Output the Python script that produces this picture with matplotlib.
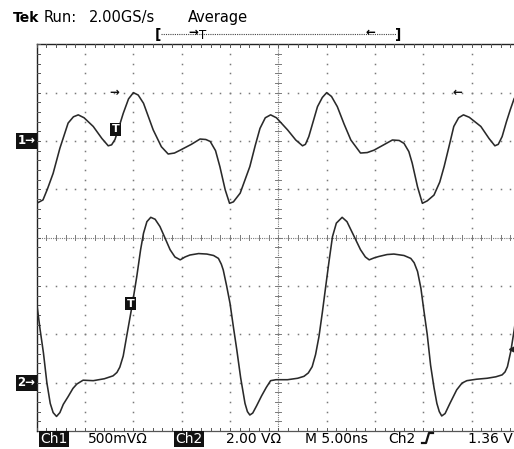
import numpy as np
import matplotlib
matplotlib.use("Agg")
import matplotlib.pyplot as plt
from matplotlib.lines import Line2D

plt.rcParams['font.family'] = ['DejaVu Sans']

# ---- data (divisions: x 0..10 time, y 0..8 from bottom) ----
ch1_t = [0.00, 0.13, 0.22, 0.34, 0.48, 0.65, 0.76, 0.86, 0.98, 1.17, 1.35, 1.48, 1.55, 1.62,
         1.70, 1.79, 1.90, 2.00, 2.10, 2.21, 2.41, 2.58, 2.72, 2.85, 2.97, 3.20, 3.38, 3.50,
         3.59, 3.70, 3.79, 3.90, 3.99, 4.07, 4.21, 4.33, 4.41, 4.52, 4.62, 4.73, 4.84, 4.96,
         5.19, 5.36, 5.50, 5.56, 5.63, 5.72, 5.81, 5.91, 6.00, 6.10, 6.22, 6.36, 6.50, 6.70,
         6.84, 6.98, 7.18, 7.36, 7.50, 7.60, 7.70, 7.77, 7.88, 7.98, 8.08, 8.22, 8.34, 8.43,
         8.53, 8.63, 8.73, 8.83, 8.95, 9.19, 9.36, 9.48, 9.55, 9.63, 9.72, 9.80, 9.88, 10.0]
ch1_v = [4.71, 4.78, 5.00, 5.33, 5.85, 6.37, 6.50, 6.54, 6.48, 6.30, 6.05, 5.90, 5.92, 6.03,
         6.28, 6.57, 6.87, 7.00, 6.95, 6.78, 6.23, 5.88, 5.73, 5.75, 5.81, 5.93, 6.04, 6.03,
         5.99, 5.80, 5.47, 4.99, 4.71, 4.74, 4.92, 5.25, 5.47, 5.90, 6.26, 6.48, 6.54, 6.48,
         6.23, 6.02, 5.90, 5.93, 6.09, 6.40, 6.71, 6.90, 7.00, 6.92, 6.71, 6.35, 6.02, 5.75,
         5.76, 5.81, 5.92, 6.02, 6.01, 5.95, 5.78, 5.54, 5.05, 4.71, 4.76, 4.88, 5.15, 5.47,
         5.88, 6.30, 6.48, 6.54, 6.49, 6.30, 6.05, 5.90, 5.93, 6.09, 6.40, 6.65, 6.88, 7.00]

ch2_t = [0.00, 0.07, 0.14, 0.21, 0.28, 0.34, 0.41, 0.48, 0.55, 0.65, 0.75, 0.83, 0.96, 1.17,
         1.40, 1.58, 1.66, 1.72, 1.79, 1.86, 1.97, 2.07, 2.15, 2.21, 2.28, 2.36, 2.45, 2.55,
         2.66, 2.76, 2.86, 2.97, 3.07, 3.17, 3.35, 3.52, 3.66, 3.76, 3.82, 3.86, 3.93, 4.00,
         4.07, 4.14, 4.22, 4.31, 4.36, 4.41, 4.47, 4.55, 4.65, 4.75, 4.84, 4.95, 5.19, 5.40,
         5.53, 5.62, 5.70, 5.77, 5.84, 5.91, 5.98, 6.05, 6.12, 6.20, 6.32, 6.42, 6.57, 6.70,
         6.80, 6.88, 6.98, 7.08, 7.25, 7.39, 7.60, 7.74, 7.81, 7.88, 7.95, 8.01, 8.08, 8.15,
         8.22, 8.28, 8.33, 8.38, 8.45, 8.55, 8.69, 8.80, 8.90, 9.10, 9.32, 9.50, 9.63, 9.69,
         9.74, 9.81, 9.88, 9.95]
ch2_v = [2.65, 2.10, 1.61, 1.00, 0.57, 0.38, 0.30, 0.38, 0.55, 0.71, 0.88, 0.97, 1.05, 1.04,
         1.08, 1.14, 1.21, 1.32, 1.55, 1.95, 2.57, 3.19, 3.75, 4.09, 4.33, 4.42, 4.38, 4.23,
         3.98, 3.75, 3.60, 3.54, 3.60, 3.64, 3.67, 3.66, 3.63, 3.57, 3.45, 3.33, 3.00, 2.64,
         2.15, 1.68, 1.10, 0.57, 0.40, 0.33, 0.37, 0.52, 0.72, 0.90, 1.04, 1.06, 1.06, 1.09,
         1.13, 1.20, 1.33, 1.58, 1.95, 2.45, 2.99, 3.52, 4.02, 4.30, 4.42, 4.33, 4.02, 3.75,
         3.60, 3.54, 3.58, 3.61, 3.65, 3.66, 3.63, 3.57, 3.48, 3.30, 2.95, 2.50, 2.00, 1.36,
         0.90, 0.57, 0.40, 0.31, 0.36, 0.57, 0.85, 0.99, 1.04, 1.07, 1.09, 1.12, 1.16, 1.22,
         1.33, 1.65, 2.09, 2.60]

ch1_ref = 6.0
ch2_ref = 1.0
trig_level = 1.70
t_marks = [(1.63, 6.24), (1.95, 2.63)]

W, H = 514, 449
fig = plt.figure(figsize=(W / 100, H / 100), dpi=100)
fig.patch.set_facecolor('white')
left_px, top_px, div_px = 36.7, 44.3, 48.33
ax = fig.add_axes([left_px / W, (H - (top_px + 8 * div_px)) / H, 10 * div_px / W, 8 * div_px / H])
ax.set_xlim(0, 10)
ax.set_ylim(0, 8)
ax.axis('off')

grid_c = '#7a7a7a'
minor = np.arange(0, 10.001, 0.2)
minor_y = np.arange(0, 8.001, 0.2)

# dotted division lines
for gy in [1, 2, 3, 5, 6, 7]:
    ax.plot(minor[1:-1], np.full(len(minor) - 2, gy), ls='none', marker='s', ms=1.1,
            mec='none', mfc=grid_c)
for gx in [1, 2, 3, 4, 6, 7, 8, 9]:
    ax.plot(np.full(len(minor_y) - 2, gx), minor_y[1:-1], ls='none', marker='s', ms=1.1,
            mec='none', mfc=grid_c)

# centre lines with ticks
ax.plot([0, 10], [4, 4], ls=(0, (1, 1)), lw=0.8, color=grid_c)
ax.plot([5, 5], [0, 8], ls=(0, (1, 1)), lw=0.8, color=grid_c)
for x in minor:
    ax.plot([x, x], [4 - 0.05, 4 + 0.05], lw=0.7, color=grid_c)
for y in minor_y:
    ax.plot([5 - 0.06, 5 + 0.06], [y, y], lw=0.7, color=grid_c)

# border
ax.plot([0, 10], [8, 8], lw=1.0, color='#222222', clip_on=False)
ax.plot([0, 10], [0, 0], lw=0.9, color='#555555', clip_on=False)
ax.plot([0, 0], [0, 8], lw=1.0, color='#222222', clip_on=False)
for x in minor:
    ax.plot([x, x], [8, 8 - 0.06], lw=0.7, color='#555555')
    ax.plot([x, x], [0, 0.06], lw=0.7, color='#555555')
for y in minor_y:
    ax.plot([0, 0.06], [y, y], lw=0.7, color='#555555')

# traces
ax.plot(ch1_t, ch1_v, color='#2a2a2a', lw=1.15, solid_joinstyle='round')
ax.plot(ch2_t, ch2_v, color='#2a2a2a', lw=1.15, solid_joinstyle='round')

# trigger markers
for (tx, ty) in t_marks:
    ax.text(tx, ty, 'T', color='white', fontsize=8, fontweight='bold', ha='center',
            va='center', bbox=dict(boxstyle='square,pad=0.15', fc='#111111', ec='none'))
ax.text(1.60, 7.0, '→', fontsize=8.5, fontweight='bold', ha='center', va='center', color='#111111')
ax.text(8.70, 7.0, '←', fontsize=8.5, fontweight='bold', ha='center', va='center', color='#111111')
ax.plot([9.86], [trig_level], marker='<', ms=5.5, color='#222222', clip_on=False)

# channel reference labels
for lab, yv in [('1→', ch1_ref), ('2→', ch2_ref)]:
    ax.text(-0.03, yv, lab, color='white', fontsize=8.5, fontweight='bold', ha='right',
            va='center', clip_on=False,
            bbox=dict(boxstyle='square,pad=0.12', fc='#111111', ec='none'))

def fx(px):
    return px / W

def fy(py):
    return 1 - py / H

# top status text
fig.text(fx(13), fy(22), 'Tek', fontsize=10, fontweight='bold', va='baseline')
fig.text(fx(44), fy(22), 'Run:', fontsize=10.5, va='baseline')
fig.text(fx(89), fy(22), '2.00GS/s', fontsize=10.5, va='baseline')
fig.text(fx(188), fy(22), 'Average', fontsize=10.5, va='baseline')

# record bracket
fig.text(fx(155), fy(39), '[', fontsize=10, fontweight='bold', va='baseline')
fig.text(fx(395), fy(39), ']', fontsize=10, fontweight='bold', va='baseline')
fig.add_artist(Line2D([fx(161), fx(396)], [fy(34), fy(34)], ls=(0, (1, 1)), lw=0.8,
                      color='#444444', transform=fig.transFigure))
fig.text(fx(193), fy(32), '→', fontsize=8.5, fontweight='bold', ha='center', va='center')
fig.text(fx(203), fy(39), 'T', fontsize=8.5, ha='center', va='baseline')
fig.text(fx(370), fy(32), '←', fontsize=8.5, fontweight='bold', ha='center', va='center')

# bottom readout
by = fy(443)
fig.text(fx(40), by, 'Ch1', fontsize=10, color='white', va='baseline',
         bbox=dict(boxstyle='square,pad=0.1', fc='#111111', ec='none'))
fig.text(fx(88), by, '500mVΩ', fontsize=10, va='baseline')
fig.text(fx(175), by, 'Ch2', fontsize=10, color='white', va='baseline',
         bbox=dict(boxstyle='square,pad=0.1', fc='#111111', ec='none'))
fig.text(fx(226), by, '2.00 VΩ', fontsize=10, va='baseline')
fig.text(fx(305), by, 'M 5.00ns', fontsize=10, va='baseline')
fig.text(fx(388), by, 'Ch2', fontsize=10, va='baseline')
fig.add_artist(Line2D([fx(422), fx(426), fx(429), fx(433)],
                      [fy(443), fy(443), fy(433), fy(433)], lw=1.6, color='#111111',
                      transform=fig.transFigure))
fig.text(fx(468), by, '1.36 V', fontsize=10, va='baseline')

fig.savefig('out.png', dpi=100, facecolor='white')
